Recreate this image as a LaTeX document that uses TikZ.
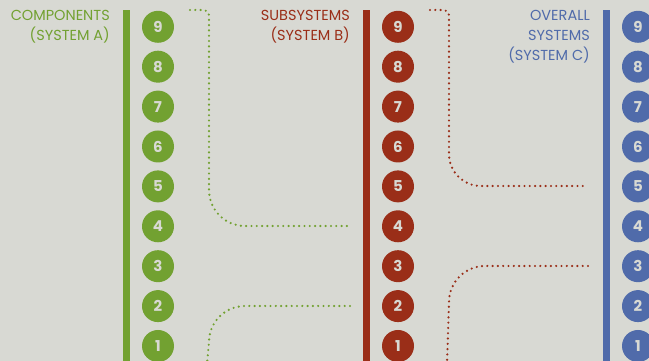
\documentclass[tikz,border=0pt]{standalone}
\usepackage{fontspec}
\setmainfont{Poppins}
\begin{document}
\begin{tikzpicture}[x=1pt,y=1pt,
    num/.style={circle, fill=#1, minimum size=32pt, inner sep=0pt,
        text=bgcol, font=\fontsize{15}{16}\selectfont\bfseries},
    heading/.style={anchor=north east, align=right, text=#1, inner sep=0pt,
        font=\fontsize{14.5}{19.6}\selectfont},
    bar/.style={fill=#1},
    dots/.style={draw=#1, line width=2.4pt, line cap=round, dash pattern=on 0pt off 5.3pt}]
    % Define colors
    \definecolor{bgcol}{RGB}{216,217,211}
    \definecolor{sysgreen}{RGB}{114,161,49}
    \definecolor{sysred}{RGB}{154,46,24}
    \definecolor{sysblue}{RGB}{80,107,170}

    % Background
    \fill[bgcol] (0,0) rectangle (649,361);
    \useasboundingbox (0,0) rectangle (649,361);

    % Draw the bars
    \fill[bar=sysgreen] (123,0) rectangle (130,351);
    \fill[bar=sysred] (363,0) rectangle (370,351);
    \fill[bar=sysblue] (603,0) rectangle (610,351);

    % Add the numbered circles
    \foreach \k in {1,...,9} {
        \node[num=sysgreen] (g\k) at (158,{15+39.9*(\k-1)}) {\k};
        \node[num=sysred] (r\k) at (398,{15+39.9*(\k-1)}) {\k};
        \node[num=sysblue] (b\k) at (638,{15+39.9*(\k-1)}) {\k};
    }

    % Add headings
    \node[heading=sysgreen] (compA) at (110,350.5) {COMPONENTS\\(SYSTEM A)};
    \node[heading=sysred] (subB) at (350,350.5) {SUBSYSTEMS\\(SYSTEM B)};
    \node[heading=sysblue] (overC) at (590,350.5) {OVERALL\\SYSTEMS\\(SYSTEM C)};

    % End points of the dotted links
    \coordinate (gTop) at (190,351);
    \coordinate (gMid) at (350,135);
    \coordinate (gLow) at (350,55);
    \coordinate (gBot) at (207,-3);
    \coordinate (rTop) at (430,351);
    \coordinate (rMid) at (588,175);
    \coordinate (rLow) at (588,95);
    \coordinate (rBot) at (447,-3);

    % Draw the dotted links
    \draw[dots=sysgreen] (gTop) -- (204,351) to[out=0,in=90] (209,346)
        -- (209,171) to[out=-90,in=180] (245,135) -- (gMid);
    \draw[dots=sysgreen] (gLow) -- (245,55) to[out=180,in=90] (209,19) -- (gBot);
    \draw[dots=sysred] (rTop) -- (444,351) to[out=0,in=90] (449,346)
        -- (449,207) to[out=-90,in=180] (481,175) -- (rMid);
    \draw[dots=sysred] (rLow) -- (485,95) to[out=180,in=90] (449,59) -- (rBot);
\end{tikzpicture}
\end{document}
